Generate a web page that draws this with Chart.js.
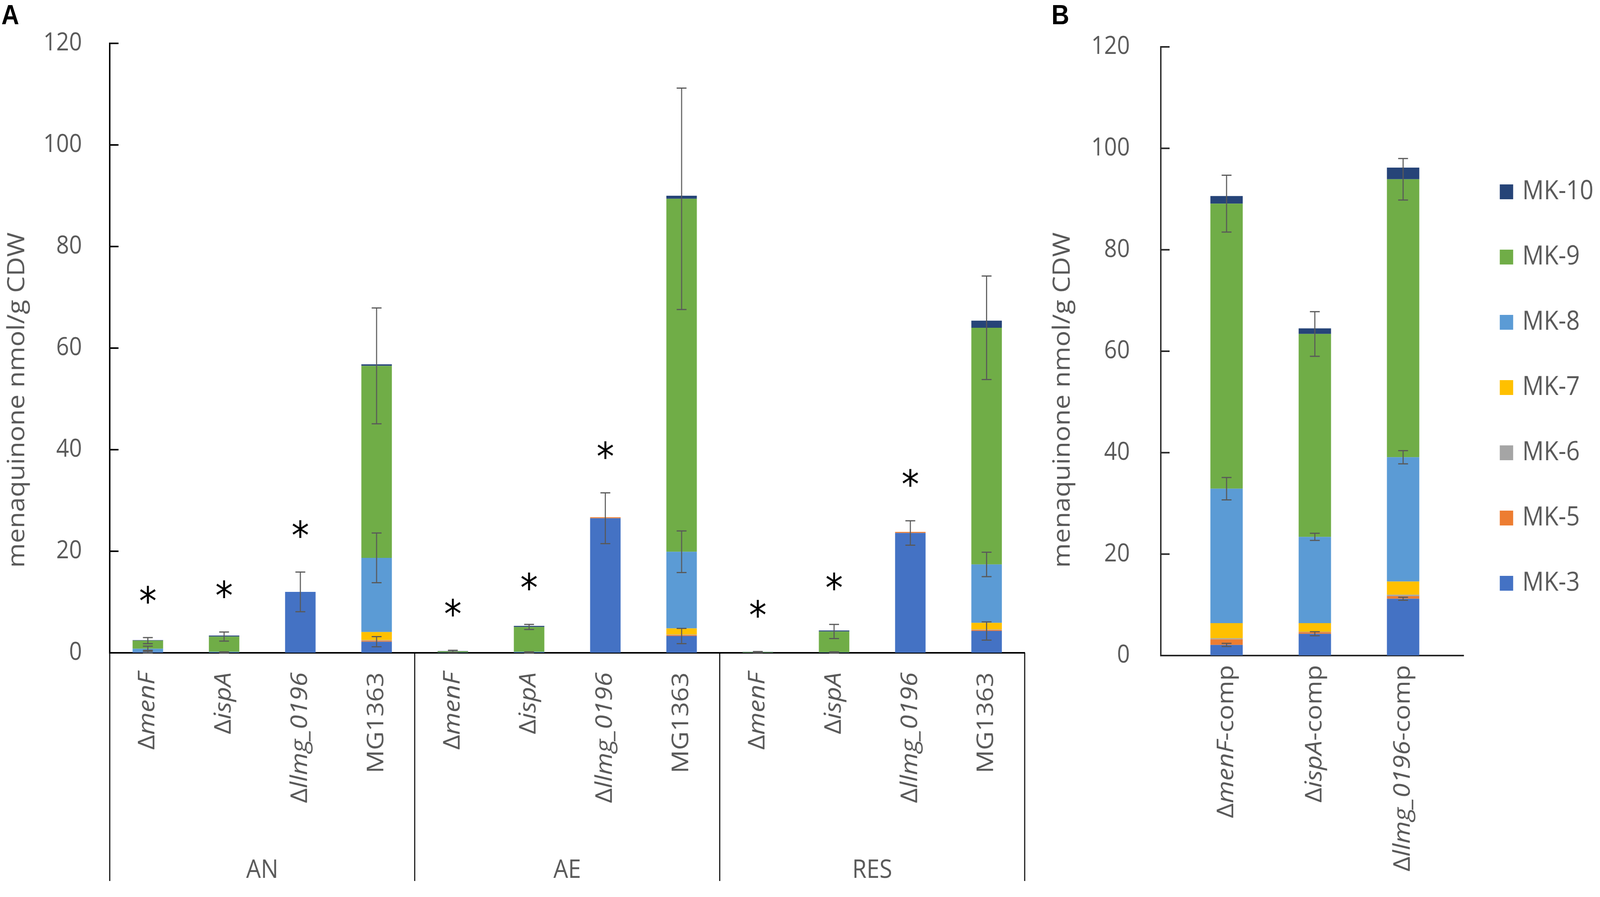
<!DOCTYPE html>
<html>
<head>
<meta charset="utf-8">
<script src="https://cdn.jsdelivr.net/npm/chart.js@4/dist/chart.umd.min.js"></script>
<style>
  html, body { margin: 0; padding: 0; background: #fff; overflow: hidden; }
  #page { position: relative; width: 4550px; height: 2296px; overflow: hidden; font-family: 'Open Sans', sans-serif; color: #595959; transform-origin: 0 0; }
  canvas { position: absolute; top: 0; }
  .panel-tag { position: absolute; font: bold 70px 'Liberation Sans', Arial, sans-serif; color: #000; line-height: 1; }
</style>
</head>
<body>
<div id="page">
  <canvas id="chart-a" width="2980" height="2296" style="left:0"></canvas>
  <canvas id="chart-b" width="1570" height="2296" style="left:2980px"></canvas>
  <div class="panel-tag" style="left:4px;top:3px">A</div>
  <div class="panel-tag" style="left:2990px;top:3px">B</div>
</div>
<script>
const series = ['MK-3', 'MK-5', 'MK-6', 'MK-7', 'MK-8', 'MK-9', 'MK-10'];
const seriesColors = ['#4472C4', '#ED7D31', '#A5A5A5', '#FFC000', '#5B9BD5', '#70AD47', '#264478'];
const yTicks = [0, 20, 40, 60, 80, 100, 120];
const yTitle = 'menaquinone nmol/g CDW';

// panel A: strains repeated for each growth condition; {..} = italic
const conditions = ['AN', 'AE', 'RES'];
const strainsA = ['Δ{menF}', 'Δ{ispA}', 'Δ{llmg_0196}', 'MG1363'];
const a_mk3 = [0.2, 0.1, 12.0, 2.2, 0.1, 0.1, 26.5, 3.3, 0.05, 0.1, 23.6, 4.3];
const a_mk5 = [0, 0, 0, 0.2, 0, 0, 0.2, 0.2, 0, 0, 0.2, 0.2];
const a_mk6 = [0, 0, 0, 0.1, 0, 0, 0, 0.1, 0, 0, 0, 0.1];
const a_mk7 = [0, 0, 0, 1.6, 0, 0, 0, 1.2, 0, 0, 0, 1.3];
const a_mk8 = [0.6, 0.1, 0, 14.6, 0, 0.1, 0, 15.1, 0, 0, 0, 11.5];
const a_mk9 = [1.6, 3.0, 0, 37.8, 0.2, 4.9, 0, 69.5, 0.1, 4.1, 0, 46.6];
const a_mk10 = [0.1, 0.2, 0, 0.3, 0.05, 0.2, 0, 0.6, 0.05, 0.2, 0, 1.4];
const a_err_mk3 = [0.3, 0.1, 3.9, 1.0, 0, 0.1, 5.0, 1.5, 0, 0.1, 2.4, 1.8];
const a_err_mk8 = [0.5, 0, 0, 4.9, 0, 0, 0, 4.1, 0, 0, 0, 2.4];
const a_err_mk9 = [0.6, 0.9, 0, 11.4, 0.2, 0.5, 0, 21.8, 0.1, 1.4, 0, 10.2];
const a_significant = [true, true, true, false, true, true, true, false, true, true, true, false];

// panel B: complemented strains
const strainsB = ['Δ{menF}-comp', 'Δ{ispA}-comp', 'Δ{llmg_0196}-comp'];
const b_mk3 = [2.1, 4.3, 11.2];
const b_mk5 = [1.1, 0.3, 0.5];
const b_mk6 = [0.2, 0.1, 0.3];
const b_mk7 = [3.0, 1.7, 2.6];
const b_mk8 = [26.5, 17.0, 24.5];
const b_mk9 = [56.2, 40.0, 54.8];
const b_mk10 = [1.5, 1.1, 2.3];
const b_err_mk3 = [0.3, 0.4, 0.3];
const b_err_mk8 = [2.2, 0.7, 1.3];
const b_err_mk9 = [5.6, 4.4, 4.1];

const TEXT = '#595959';
const FONT = "'Open Sans', sans-serif";

function parseLabel(str) {
  return str.split(/(\{[^}]*\})/).filter(Boolean).map((part) =>
    part.startsWith('{') ? { text: part.slice(1, -1), italic: true } : { text: part, italic: false });
}

function cumulative(values, k, i) {
  let sum = 0;
  for (let j = 0; j <= k; j++) sum += values[j][i] || 0;
  return sum;
}

function drawRotatedLabel(ctx, parts, x, top, size) {
  ctx.save();
  ctx.translate(x, top);
  ctx.rotate(-Math.PI / 2);
  ctx.textBaseline = 'middle';
  ctx.textAlign = 'left';
  ctx.fillStyle = TEXT;
  const widths = parts.map((p) => {
    ctx.font = `${p.italic ? 'italic ' : ''}${size}px ${FONT}`;
    return ctx.measureText(p.text).width;
  });
  let cx = -widths.reduce((a, b) => a + b, 0);
  parts.forEach((p, i) => {
    ctx.font = `${p.italic ? 'italic ' : ''}${size}px ${FONT}`;
    ctx.fillText(p.text, cx, 0);
    cx += widths[i];
  });
  ctx.restore();
}

function panelExtras(opts) {
  return {
    id: 'panelExtras',
    afterDatasetsDraw(chart) {
      const { ctx, chartArea } = chart;
      const xs = chart.scales.x;
      const ys = chart.scales.y;

      // inward tick marks on the value axis
      ctx.save();
      ctx.strokeStyle = opts.axisColor;
      ctx.lineWidth = 4;
      yTicks.forEach((v) => {
        const y = ys.getPixelForValue(v);
        ctx.beginPath();
        ctx.moveTo(chartArea.left, y);
        ctx.lineTo(chartArea.left + 25, y);
        ctx.stroke();
      });
      ctx.restore();

      // error bars, centred on the top of each stacked segment
      ctx.save();
      ctx.strokeStyle = '#595959';
      ctx.lineWidth = 3;
      opts.errors.forEach((errs, k) => {
        if (!errs) return;
        const meta = chart.getDatasetMeta(k);
        errs.forEach((e, i) => {
          if (!e) return;
          const top = cumulative(opts.values, k, i);
          const x = meta.data[i].x;
          const y1 = ys.getPixelForValue(top + e);
          const y2 = ys.getPixelForValue(Math.max(0, top - e));
          ctx.beginPath();
          ctx.moveTo(x, y1); ctx.lineTo(x, y2);
          ctx.moveTo(x - 14, y1); ctx.lineTo(x + 14, y1);
          ctx.moveTo(x - 14, y2); ctx.lineTo(x + 14, y2);
          ctx.stroke();
        });
      });
      ctx.restore();

      // significance asterisks
      if (opts.significant) {
        ctx.save();
        ctx.fillStyle = '#000';
        ctx.font = `100px 'DejaVu Sans', sans-serif`;
        ctx.textAlign = 'center';
        ctx.textBaseline = 'alphabetic';
        const m = ctx.measureText('*');
        const mid = (m.actualBoundingBoxAscent - m.actualBoundingBoxDescent) / 2;
        opts.significant.forEach((sig, i) => {
          if (!sig) return;
          let top = 0;
          opts.values.forEach((_, k) => {
            const errs = opts.errors[k];
            top = Math.max(top, cumulative(opts.values, k, i) + (errs ? errs[i] || 0 : 0));
          });
          const x = chart.getDatasetMeta(0).data[i].x;
          const y = ys.getPixelForValue(top) - 110;
          ctx.fillText('*', x, y + mid);
        });
        ctx.restore();
      }

      // category labels
      opts.labels.forEach((label, i) => {
        drawRotatedLabel(ctx, parseLabel(label), xs.getPixelForValue(i), chartArea.bottom + opts.labelGap, 66);
      });

      // condition groups below the axis
      if (opts.groups) {
        const per = opts.labels.length / opts.groups.length;
        ctx.save();
        ctx.strokeStyle = '#000';
        ctx.lineWidth = 3;
        for (let g = 0; g <= opts.groups.length; g++) {
          const x = xs.getPixelForValue(g * per - 0.5);
          ctx.beginPath();
          ctx.moveTo(x, chartArea.bottom);
          ctx.lineTo(x, opts.groupLineEnd);
          ctx.stroke();
        }
        ctx.fillStyle = TEXT;
        ctx.font = `66px ${FONT}`;
        ctx.textAlign = 'center';
        ctx.textBaseline = 'middle';
        opts.groups.forEach((name, g) => {
          const x0 = xs.getPixelForValue(g * per - 0.5);
          const x1 = xs.getPixelForValue((g + 1) * per - 0.5);
          ctx.fillText(name, (x0 + x1) / 2, opts.groupLabelY);
        });
        ctx.restore();
      }

      // legend, top entry = last stacked series
      if (opts.legend) {
        ctx.save();
        ctx.font = `68px ${FONT}`;
        ctx.textAlign = 'left';
        ctx.textBaseline = 'middle';
        const items = chart.data.datasets.slice().reverse();
        items.forEach((ds, idx) => {
          const cy = opts.legend.top + idx * opts.legend.step;
          ctx.fillStyle = ds.backgroundColor;
          ctx.fillRect(opts.legend.x, cy - 19, 38, 38);
          ctx.fillStyle = TEXT;
          ctx.fillText(ds.label, opts.legend.x + 64, cy);
        });
        ctx.restore();
      }

      // value axis title
      ctx.save();
      ctx.translate(opts.titleX, opts.titleY);
      ctx.rotate(-Math.PI / 2);
      ctx.fillStyle = TEXT;
      ctx.font = `68px ${FONT}`;
      ctx.textAlign = 'center';
      ctx.textBaseline = 'middle';
      ctx.fillText(yTitle, 0, 0);
      ctx.restore();
    },
  };
}

function makePanel(canvasId, opts) {
  const datasets = series.map((name, k) => ({
    label: name,
    data: opts.values[k],
    backgroundColor: seriesColors[k],
    borderWidth: 0,
    categoryPercentage: 1,
    barPercentage: opts.barPercentage,
  }));
  const indices = opts.labels.map((_, i) => i);

  return new Chart(document.getElementById(canvasId), {
    type: 'bar',
    data: { labels: indices, datasets },
    plugins: [panelExtras(opts)],
    options: {
      responsive: false,
      animation: false,
      devicePixelRatio: 1,
      layout: { padding: { left: 0, right: opts.padRight, top: opts.padTop, bottom: 0 } },
      plugins: { legend: { display: false }, tooltip: { enabled: false } },
      scales: {
        x: {
          type: 'linear',
          min: opts.xMin,
          max: opts.xMax,
          offset: false,
          stacked: true,
          afterBuildTicks: (s) => { s.ticks = indices.map((v) => ({ value: v })); },
          grid: { display: true, drawOnChartArea: false, drawTicks: false, offset: false },
          border: { display: true, color: opts.axisColor, width: 4 },
          ticks: { display: false },
          afterFit: (s) => { s.height = opts.xHeight; },
        },
        y: {
          stacked: true,
          min: 0,
          max: 120,
          afterBuildTicks: (s) => { s.ticks = yTicks.map((v) => ({ value: v })); },
          grid: { display: true, drawOnChartArea: false, drawTicks: false },
          border: { display: true, color: opts.axisColor, width: 4 },
          ticks: { color: TEXT, padding: opts.tickPad, font: { family: FONT, size: 64, lineHeight: 1 } },
          afterFit: (s) => { s.width = opts.yWidth; },
        },
      },
    },
  });
}

makePanel('chart-a', {
  labels: conditions.flatMap(() => strainsA),
  groups: conditions,
  values: [a_mk3, a_mk5, a_mk6, a_mk7, a_mk8, a_mk9, a_mk10],
  errors: [a_err_mk3, null, null, null, a_err_mk8, a_err_mk9, null],
  significant: a_significant,
  barPercentage: 0.4,
  xMin: -0.5,
  xMax: 11.5,
  yWidth: 312,
  padRight: 66,
  padTop: 38,
  xHeight: 625,
  tickPad: 79,
  labelGap: 50,
  groupLineEnd: 2255,
  groupLabelY: 2228,
  titleX: 50,
  titleY: 1024,
  axisColor: '#000',
});

makePanel('chart-b', {
  labels: strainsB,
  values: [b_mk3, b_mk5, b_mk6, b_mk7, b_mk8, b_mk9, b_mk10],
  errors: [b_err_mk3, null, null, null, b_err_mk8, b_err_mk9, null],
  significant: null,
  barPercentage: 0.367,
  xMin: -0.745,
  xMax: 2.685,
  yWidth: 321,
  padRight: 388,
  padTop: 47,
  xHeight: 618,
  tickPad: 88,
  labelGap: 24,
  titleX: 43,
  titleY: 1024,
  axisColor: '#262626',
  legend: { x: 1285, top: 491, step: 167 },
});

// the window may be narrower than the 4550px design; fit the whole figure into it
const page = document.getElementById('page');
const sx = window.innerWidth / 4550;
const sy = window.innerHeight / 2296;
if (Math.abs(sx - 1) > 0.001 || Math.abs(sy - 1) > 0.001) {
  page.style.transform = `scale(${sx}, ${sy})`;
}
</script>
</body>
</html>
